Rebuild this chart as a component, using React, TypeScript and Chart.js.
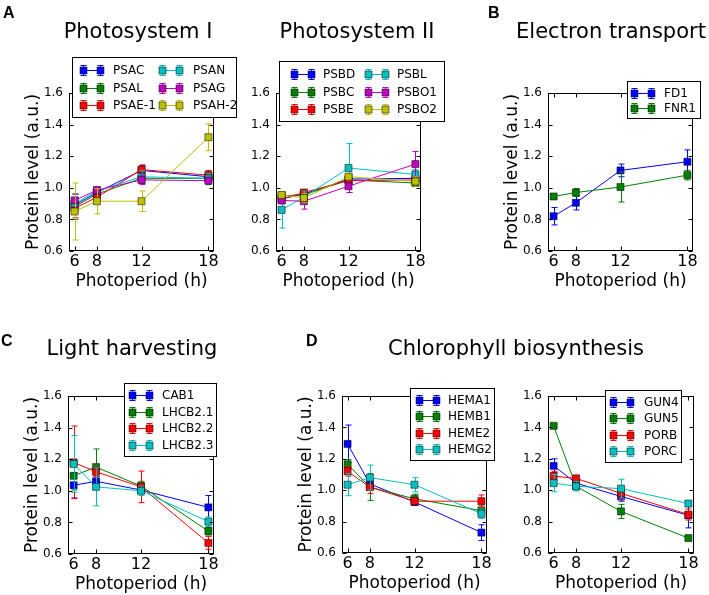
import React, { useEffect, useRef } from 'react';
import { Chart, registerables } from 'chart.js';

Chart.register(...registerables);

// ---------- shared axis values ----------
const PHOTOPERIODS = [6, 8, 12, 18];
const X_TICKS = [6, 8, 12, 18];
const Y_TICKS = [0.6, 0.8, 1.0, 1.2, 1.4, 1.6];

// ---------- colours (matplotlib classic) ----------
const BLUE = '#0000ff';
const GREEN = '#008000';
const RED = '#ff0000';
const CYAN = '#00bfbf';
const MAGENTA = '#bf00bf';
const YELLOW = '#bfbf00';

// ---------- Panel A: Photosystem I ----------
const PSAC = [0.89, 0.97, 1.11, 1.07];
const PSAC_ERR = [0.05, 0.02, 0.03, 0.02];
const PSAL = [0.88, 0.96, 1.06, 1.06];
const PSAL_ERR = [0.08, 0.03, 0.03, 0.04];
const PSAE1 = [0.87, 0.94, 1.115, 1.08];
const PSAE1_ERR = [0.06, 0.03, 0.03, 0.03];
const PSAN = [0.9, 0.98, 1.07, 1.06];
const PSAN_ERR = [0.06, 0.02, 0.04, 0.03];
const PSAG = [0.92, 0.985, 1.05, 1.045];
const PSAG_ERR = [0.04, 0.02, 0.03, 0.02];
const PSAH2 = [0.85, 0.915, 0.915, 1.32];
const PSAH2_ERR = [0.18, 0.08, 0.065, 0.085];

// ---------- Panel A: Photosystem II ----------
const PSBD = [0.93, 0.96, 1.055, 1.06];
const PSBD_ERR = [0.03, 0.02, 0.03, 0.02];
const PSBC = [0.95, 0.955, 1.05, 1.03];
const PSBC_ERR = [0.02, 0.02, 0.03, 0.02];
const PSBE = [0.93, 0.97, 1.045, 1.05];
const PSBE_ERR = [0.03, 0.02, 0.02, 0.02];
const PSBL = [0.86, 0.94, 1.125, 1.085];
const PSBL_ERR = [0.115, 0.04, 0.155, 0.03];
const PSBO1 = [0.92, 0.915, 1.01, 1.15];
const PSBO1_ERR = [0.02, 0.05, 0.04, 0.08];
const PSBO2 = [0.955, 0.935, 1.07, 1.04];
const PSBO2_ERR = [0.02, 0.03, 0.02, 0.03];

// ---------- Panel B: Electron transport ----------
const FD1 = [0.82, 0.905, 1.11, 1.165];
const FD1_ERR = [0.055, 0.045, 0.04, 0.075];
const FNR1 = [0.945, 0.97, 1.005, 1.08];
const FNR1_ERR = [0.01, 0.025, 0.095, 0.03];

// ---------- Panel C: Light harvesting ----------
const CAB1 = [1.035, 1.06, 1.005, 0.895];
const CAB1_ERR = [0.08, 0.03, 0.02, 0.075];
const LHCB21 = [1.095, 1.15, 1.03, 0.745];
const LHCB21_ERR = [0.09, 0.115, 0.03, 0.025];
const LHCB22 = [1.18, 1.12, 1.025, 0.67];
const LHCB22_ERR = [0.23, 0.03, 0.1, 0.04];
const LHCB23 = [1.17, 1.025, 1.0, 0.805];
const LHCB23_ERR = [0.18, 0.12, 0.03, 0.03];

// ---------- Panel D: Chlorophyll biosynthesis ----------
const HEMA1 = [1.295, 1.04, 0.925, 0.73];
const HEMA1_ERR = [0.12, 0.03, 0.02, 0.05];
const HEMB1 = [1.165, 1.02, 0.945, 0.87];
const HEMB1_ERR = [0.03, 0.085, 0.03, 0.03];
const HEME2 = [1.12, 1.02, 0.93, 0.93];
const HEME2_ERR = [0.03, 0.04, 0.02, 0.04];
const HEMG2 = [1.035, 1.08, 1.035, 0.85];
const HEMG2_ERR = [0.07, 0.08, 0.045, 0.03];

const GUN4 = [1.155, 1.045, 0.96, 0.84];
const GUN4_ERR = [0.045, 0.03, 0.03, 0.08];
const GUN5 = [1.41, 1.025, 0.865, 0.695];
const GUN5_ERR = [0.01, 0.02, 0.045, 0.01];
const PORB = [1.09, 1.075, 0.98, 0.845];
const PORB_ERR = [0.03, 0.02, 0.04, 0.035];
const PORC = [1.045, 1.025, 1.01, 0.915];
const PORC_ERR = [0.055, 0.03, 0.06, 0.015];

// ---------- text ----------
const X_TITLE = 'Photoperiod (h)';
const Y_TITLE = 'Protein level (a.u.)';

const FONT = "'DejaVu Sans', sans-serif";
const W = 709;
const H = 595;
const Y_AXIS_W = 55;
const X_AXIS_H = 41;
const LEG_PAD = 4;

type Series = { label: string; values: number[]; err: number[]; color: string };
type Panel = {
  series: Series[];
  area: [number, number, number, number];
  yTitle: boolean;
  legendBox: [number, number, number, number];
  legendCols: [number, number][];
  legendRows: number;
};

const PANELS: Panel[] = [
  {
    series: [
      { label: 'PSAC', values: PSAC, err: PSAC_ERR, color: BLUE },
      { label: 'PSAL', values: PSAL, err: PSAL_ERR, color: GREEN },
      { label: 'PSAE-1', values: PSAE1, err: PSAE1_ERR, color: RED },
      { label: 'PSAN', values: PSAN, err: PSAN_ERR, color: CYAN },
      { label: 'PSAG', values: PSAG, err: PSAG_ERR, color: MAGENTA },
      { label: 'PSAH-2', values: PSAH2, err: PSAH2_ERR, color: YELLOW },
    ],
    area: [69, 93, 214, 251],
    yTitle: true,
    legendBox: [72, 57, 237, 118],
    legendCols: [[83, 113], [162, 193]],
    legendRows: 3,
  },
  {
    series: [
      { label: 'PSBD', values: PSBD, err: PSBD_ERR, color: BLUE },
      { label: 'PSBC', values: PSBC, err: PSBC_ERR, color: GREEN },
      { label: 'PSBE', values: PSBE, err: PSBE_ERR, color: RED },
      { label: 'PSBL', values: PSBL, err: PSBL_ERR, color: CYAN },
      { label: 'PSBO1', values: PSBO1, err: PSBO1_ERR, color: MAGENTA },
      { label: 'PSBO2', values: PSBO2, err: PSBO2_ERR, color: YELLOW },
    ],
    area: [276, 93, 421, 251],
    yTitle: false,
    legendBox: [279, 61, 445, 122],
    legendCols: [[294, 323], [368, 397]],
    legendRows: 3,
  },
  {
    series: [
      { label: 'FD1', values: FD1, err: FD1_ERR, color: BLUE },
      { label: 'FNR1', values: FNR1, err: FNR1_ERR, color: GREEN },
    ],
    area: [548, 93, 693, 251],
    yTitle: true,
    legendBox: [627, 81, 701, 119],
    legendCols: [[634, 664]],
    legendRows: 2,
  },
  {
    series: [
      { label: 'CAB1', values: CAB1, err: CAB1_ERR, color: BLUE },
      { label: 'LHCB2.1', values: LHCB21, err: LHCB21_ERR, color: GREEN },
      { label: 'LHCB2.2', values: LHCB22, err: LHCB22_ERR, color: RED },
      { label: 'LHCB2.3', values: LHCB23, err: LHCB23_ERR, color: CYAN },
    ],
    area: [68, 396, 214, 554],
    yTitle: true,
    legendBox: [124, 383, 217, 457],
    legendCols: [[132, 162]],
    legendRows: 4,
  },
  {
    series: [
      { label: 'HEMA1', values: HEMA1, err: HEMA1_ERR, color: BLUE },
      { label: 'HEMB1', values: HEMB1, err: HEMB1_ERR, color: GREEN },
      { label: 'HEME2', values: HEME2, err: HEME2_ERR, color: RED },
      { label: 'HEMG2', values: HEMG2, err: HEMG2_ERR, color: CYAN },
    ],
    area: [342, 396, 487, 553],
    yTitle: true,
    legendBox: [410, 388, 495, 461],
    legendCols: [[419, 448]],
    legendRows: 4,
  },
  {
    series: [
      { label: 'GUN4', values: GUN4, err: GUN4_ERR, color: BLUE },
      { label: 'GUN5', values: GUN5, err: GUN5_ERR, color: GREEN },
      { label: 'PORB', values: PORB, err: PORB_ERR, color: RED },
      { label: 'PORC', values: PORC, err: PORC_ERR, color: CYAN },
    ],
    area: [548, 396, 694, 553],
    yTitle: false,
    legendBox: [605, 390, 682, 463],
    legendCols: [[613, 644]],
    legendRows: 4,
  },
];

const TITLES = [
  { text: 'Photosystem I', cx: 138, top: 21 },
  { text: 'Photosystem II', cx: 357, top: 21 },
  { text: 'Electron transport', cx: 611, top: 21 },
  { text: 'Light harvesting', cx: 132, top: 338 },
  { text: 'Chlorophyll biosynthesis', cx: 516, top: 338 },
];

const LETTERS = [
  { text: 'A', left: 3, top: 5 },
  { text: 'B', left: 488, top: 5 },
  { text: 'C', left: 1, top: 333 },
  { text: 'D', left: 306, top: 333 },
];

const errorBarPlugin = {
  id: 'errorBars',
  beforeDatasetDraw(chart: any, args: any) {
    const ds: any = chart.data.datasets[args.index];
    const err: number[] = ds.errors;
    if (!err) return;
    const ys = chart.scales.y;
    const ctx = chart.ctx;
    ctx.save();
    ctx.strokeStyle = ds.borderColor;
    ctx.lineWidth = 1;
    ctx.beginPath();
    args.meta.data.forEach((pt: any, i: number) => {
      const v = ds.data[i].y;
      const x = Math.round(pt.x) + 0.5;
      const top = ys.getPixelForValue(v + err[i]);
      const bot = ys.getPixelForValue(v - err[i]);
      ctx.moveTo(x, top);
      ctx.lineTo(x, bot);
      ctx.moveTo(x - 3, top);
      ctx.lineTo(x + 3, top);
      ctx.moveTo(x - 3, bot);
      ctx.lineTo(x + 3, bot);
    });
    ctx.stroke();
    ctx.restore();
  },
};

const framePlugin = {
  id: 'frame',
  afterDatasetsDraw(chart: any) {
    const { ctx, chartArea: a, scales } = chart;
    const xs = scales.x;
    const ys = scales.y;
    const l = Math.round(a.left) + 0.5;
    const r = Math.round(a.right) - 0.5;
    const t = Math.round(a.top) + 0.5;
    const b = Math.round(a.bottom) - 0.5;
    ctx.save();
    ctx.strokeStyle = '#000';
    ctx.lineWidth = 1;
    ctx.strokeRect(l, t, r - l, b - t);
    ctx.beginPath();
    X_TICKS.forEach((v) => {
      const px = Math.round(xs.getPixelForValue(v)) + 0.5;
      ctx.moveTo(px, b);
      ctx.lineTo(px, b - 4);
      ctx.moveTo(px, t);
      ctx.lineTo(px, t + 4);
    });
    Y_TICKS.forEach((v) => {
      const py = Math.round(ys.getPixelForValue(v)) + 0.5;
      ctx.moveTo(l, py);
      ctx.lineTo(l + 4, py);
      ctx.moveTo(r, py);
      ctx.lineTo(r - 4, py);
    });
    ctx.stroke();
    ctx.restore();
  },
};

function makeLegendPlugin(p: Panel) {
  return {
    id: 'boxLegend',
    afterDraw(chart: any) {
      const ctx = chart.ctx;
      const [x0, y0, x1, y1] = p.legendBox;
      ctx.save();
      ctx.fillStyle = '#fff';
      ctx.fillRect(x0, y0, x1 - x0, y1 - y0);
      ctx.strokeStyle = '#000';
      ctx.lineWidth = 1;
      ctx.strokeRect(x0 + 0.5, y0 + 0.5, x1 - x0 - 1, y1 - y0 - 1);
      const rowH = (y1 - y0 - 2 * LEG_PAD) / p.legendRows;
      chart.data.datasets.forEach((ds: any, i: number) => {
        const col = Math.floor(i / p.legendRows);
        const row = i % p.legendRows;
        const [m1raw, tx] = p.legendCols[col];
        const m1 = m1raw + 0.5;
        const m2 = m1 + 17;
        const cy = Math.round(y0 + LEG_PAD + rowH * (row + 0.5)) + 0.5;
        ctx.strokeStyle = ds.borderColor;
        ctx.lineWidth = 1;
        ctx.beginPath();
        ctx.moveTo(m1, cy);
        ctx.lineTo(m2, cy);
        [m1, m2].forEach((mx) => {
          ctx.moveTo(mx, cy - 5);
          ctx.lineTo(mx, cy + 5);
          ctx.moveTo(mx - 3, cy - 5);
          ctx.lineTo(mx + 3, cy - 5);
          ctx.moveTo(mx - 3, cy + 5);
          ctx.lineTo(mx + 3, cy + 5);
        });
        ctx.stroke();
        [m1, m2].forEach((mx) => {
          ctx.fillStyle = ds.borderColor;
          ctx.fillRect(mx - 3.5, cy - 3.5, 7, 7);
          ctx.strokeStyle = '#000';
          ctx.lineWidth = 0.5;
          ctx.strokeRect(mx - 3.5, cy - 3.5, 7, 7);
        });
        ctx.fillStyle = '#000';
        ctx.font = `12px ${FONT}`;
        ctx.textBaseline = 'middle';
        ctx.textAlign = 'left';
        ctx.fillText(ds.label, tx, cy);
      });
      ctx.restore();
    },
  };
}

function buildConfig(p: Panel): any {
  const [L, T, R, B] = p.area;
  const n = p.series.length;
  return {
    type: 'line',
    data: {
      datasets: p.series.map((s, i) => ({
        label: s.label,
        data: PHOTOPERIODS.map((x, j) => ({ x, y: s.values[j] })),
        errors: s.err,
        borderColor: s.color,
        backgroundColor: s.color,
        borderWidth: 1,
        pointStyle: 'rect',
        pointRadius: 5,
        pointHoverRadius: 5,
        pointBackgroundColor: s.color,
        pointBorderColor: '#000',
        pointBorderWidth: 0.5,
        tension: 0,
        fill: false,
        order: n - i,
      })),
    },
    options: {
      responsive: false,
      animation: false,
      devicePixelRatio: 1,
      events: [],
      layout: {
        padding: { left: L - Y_AXIS_W, right: W - R, top: T, bottom: H - B - X_AXIS_H },
      },
      plugins: {
        legend: { display: false },
        title: { display: false },
        tooltip: { enabled: false },
      },
      scales: {
        x: {
          type: 'linear',
          min: 5.5,
          max: 18.5,
          afterBuildTicks: (s: any) => {
            s.ticks = X_TICKS.map((v) => ({ value: v }));
          },
          afterFit: (s: any) => {
            s.height = X_AXIS_H;
          },
          grid: { display: false, drawTicks: false },
          border: { display: false },
          ticks: {
            color: '#000',
            font: { family: FONT, size: 16 },
            padding: 1,
            maxRotation: 0,
            autoSkip: false,
            callback: (v: any) => String(v),
          },
          title: {
            display: true,
            text: X_TITLE,
            color: '#000',
            font: { family: FONT, size: 17 },
            padding: { top: 0, bottom: 0 },
          },
        },
        y: {
          type: 'linear',
          min: 0.6,
          max: 1.6,
          afterBuildTicks: (s: any) => {
            s.ticks = Y_TICKS.map((v) => ({ value: v }));
          },
          afterFit: (s: any) => {
            s.width = Y_AXIS_W;
          },
          grid: { display: false, drawTicks: false },
          border: { display: false },
          ticks: {
            color: '#000',
            font: { family: FONT, size: 12 },
            padding: 6,
            callback: (v: any) => Number(v).toFixed(1),
          },
          title: {
            display: p.yTitle,
            text: Y_TITLE,
            color: '#000',
            font: { family: FONT, size: 17 },
            padding: { top: 9, bottom: 0 },
          },
        },
      },
    },
    plugins: [errorBarPlugin, framePlugin, makeLegendPlugin(p)],
  };
}

export default function App() {
  const refs = useRef<(HTMLCanvasElement | null)[]>([]);

  useEffect(() => {
    const charts = PANELS.map((p, i) => new Chart(refs.current[i] as HTMLCanvasElement, buildConfig(p)));
    return () => {
      charts.forEach((c) => c.destroy());
    };
  }, []);

  return (
    <div
      style={{
        position: 'absolute',
        left: 0,
        top: 0,
        width: W,
        height: H,
        background: '#fff',
        overflow: 'hidden',
      }}
    >
      {PANELS.map((_, i) => (
        <canvas
          key={i}
          ref={(el) => {
            refs.current[i] = el;
          }}
          width={W}
          height={H}
          style={{ position: 'absolute', left: 0, top: 0, width: W, height: H }}
        />
      ))}
      {TITLES.map((t) => (
        <div
          key={t.text}
          style={{
            position: 'absolute',
            left: t.cx,
            top: t.top,
            transform: 'translateX(-50%)',
            whiteSpace: 'nowrap',
            fontFamily: FONT,
            fontSize: 21,
            lineHeight: '21px',
            color: '#000',
          }}
        >
          {t.text}
        </div>
      ))}
      {LETTERS.map((t) => (
        <div
          key={t.text}
          style={{
            position: 'absolute',
            left: t.left,
            top: t.top,
            fontFamily: "'Liberation Sans', Arial, sans-serif",
            fontWeight: 'bold',
            fontSize: 16,
            lineHeight: '16px',
            color: '#000',
          }}
        >
          {t.text}
        </div>
      ))}
    </div>
  );
}
